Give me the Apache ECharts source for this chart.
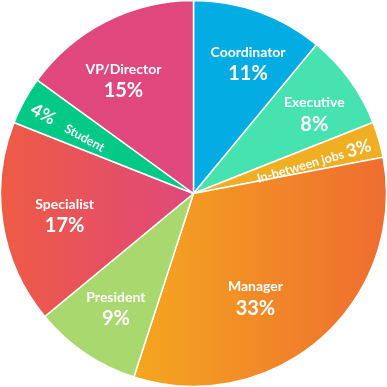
<!DOCTYPE html>
<html>
<head>
<meta charset="utf-8">
<style>html,body{margin:0;padding:0;background:#fff;}#c{width:387px;height:387px;}</style>
<script src="https://cdn.jsdelivr.net/npm/echarts@6/dist/echarts.min.js"></script>
</head>
<body>
<div id="c"></div>
<script>
const categories = ['Coordinator','Executive','In-between jobs','Manager','President','Specialist','Student','VP/Director'];
const values = [11, 8, 3, 33, 9, 17, 4, 15];

const G = (a, b) => new echarts.graphic.LinearGradient(0, 0, 1, 0, [{offset: 0, color: a}, {offset: 1, color: b}]);
const colors = ['#03ADE3', '#46E2AF', '#F0AE22', G('#F4A71F', '#EF6C30'), '#A8D86E', G('#EE5B44', '#E0487B'), '#02C985', '#E0477C'];
const labelOffsets = [[9,-3],[12,0],[-10,3],[-27,4],[-2,4],[4,1],[-7,3],[-9,7]];
const radialLabels = {2: 'right', 6: 'left'};

const chart = echarts.init(document.getElementById('c'), null, {renderer: 'canvas'});
const font = 'Lato, "Noto Sans", sans-serif';
const rich = {
  n: {fontFamily: font, fontWeight: 'bold', fontSize: 14, color: '#fff', lineHeight: 20},
  p: {fontFamily: font, fontWeight: 'bold', fontSize: 20, color: '#fff', lineHeight: 23},
  sn: {fontFamily: font, fontWeight: 'bold', fontSize: 12.5, color: '#fff', padding: [2,0,0,0]},
  sp: {fontFamily: font, fontWeight: 'bold', fontSize: 18, color: '#fff'}
};

const baseData = categories.map((name, i) => ({
  name, value: values[i],
  itemStyle: {color: colors[i]}
}));

const labelData = categories.map((name, i) => {
  const side = radialLabels[i];
  let fmt = '{n|{b}}\n{p|{c}%}';
  if (side === 'right') fmt = '{sn|{b}} {sp|{c}%}';
  if (side === 'left') fmt = '{sp|{c}%}    {sn|{b}}';
  return {
    name, value: values[i],
    label: {formatter: fmt, offset: labelOffsets[i], rotate: side ? 'radial' : 0}
  };
});

chart.setOption({
  backgroundColor: '#fff',
  animation: false,
  series: [{
    type: 'pie',
    center: ['50%', '50%'],
    radius: [0, 193],
    startAngle: 90,
    clockwise: true,
    label: {show: false},
    labelLine: {show: false},
    itemStyle: {borderColor: '#fff', borderWidth: 1.5},
    emphasis: {disabled: true},
    data: baseData
  }, {
    type: 'pie',
    center: ['50%', '50%'],
    radius: [70, 193],
    startAngle: 90,
    clockwise: true,
    silent: true,
    itemStyle: {color: 'rgba(0,0,0,0)'},
    labelLine: {show: false},
    label: {show: true, position: 'inside', rich: rich, align: 'center'},
    emphasis: {disabled: true},
    data: labelData
  }]
});
</script>
</body>
</html>
